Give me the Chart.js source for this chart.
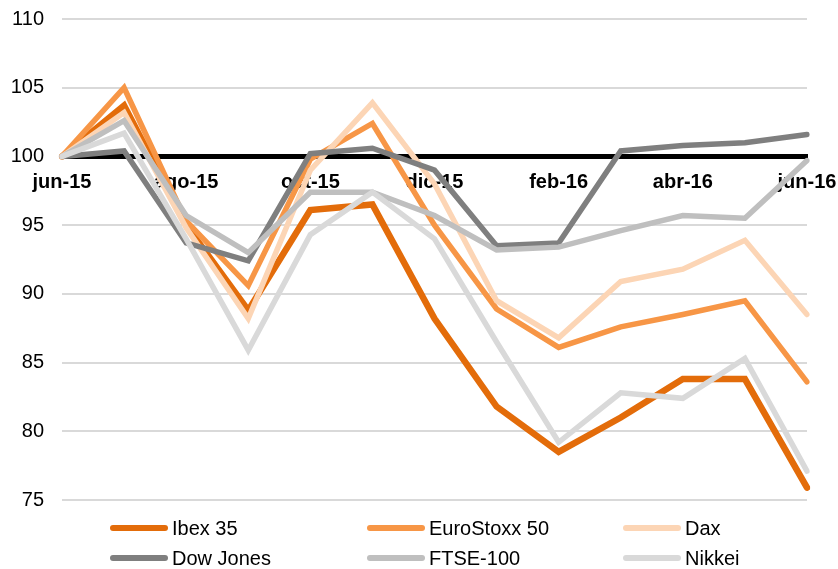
<!DOCTYPE html>
<html>
<head>
<meta charset="utf-8">
<script src="https://cdn.jsdelivr.net/npm/chart.js@4"></script>
<style>
  body { margin: 0; background: #fff; }
  #wrap { position: relative; width: 838px; height: 569px; }
  #chart { position: absolute; left: 0; top: 0; }
  .item { position: absolute; height: 30px; display: flex; align-items: center;
          font-family: "Liberation Sans", Arial, sans-serif; font-size: 20px; color: #000; }
  .swatch { width: 58px; height: 6px; border-radius: 3px; margin-right: 4px; }
</style>
</head>
<body>
<div id="wrap">
  <canvas id="chart" width="838" height="569"></canvas>
  <div id="legend"></div>
</div>
<script>
// Months (monthly, jun-15 .. jun-16)
const months = ['jun-15', 'jul-15', 'ago-15', 'sep-15', 'oct-15', 'nov-15', 'dic-15',
                'ene-16', 'feb-16', 'mar-16', 'abr-16', 'may-16', 'jun-16'];
// Axis shows every other month
const tickLabels = ['jun-15', '', 'ago-15', '', 'oct-15', '', 'dic-15',
                    '', 'feb-16', '', 'abr-16', '', 'jun-16'];
const yTicks = [75, 80, 85, 90, 95, 100, 105, 110];

// Index values (base 100 = jun-15)
const ibex      = [100, 103.7, 95.0, 88.8, 96.1, 96.5, 88.2, 81.8, 78.5, 81.0, 83.8, 83.8, 75.9];
const eurostoxx = [100, 105.0, 95.3, 90.6, 99.8, 102.4, 95.0, 88.9, 86.1, 87.6, 88.5, 89.5, 83.6];
const dax       = [100, 103.2, 94.8, 88.2, 99.0, 103.9, 98.0, 89.5, 86.8, 90.9, 91.8, 93.9, 88.5];
const dowJones  = [100, 100.4, 93.7, 92.4, 100.2, 100.6, 99.0, 93.5, 93.7, 100.4, 100.8, 101.0, 101.6];
const ftse      = [100, 102.6, 95.7, 93.0, 97.4, 97.4, 95.7, 93.2, 93.4, 94.6, 95.7, 95.5, 99.7];
const nikkei    = [100, 101.7, 94.0, 85.9, 94.3, 97.4, 94.0, 86.5, 79.2, 82.8, 82.4, 85.3, 77.1];

const seriesNames = ['Ibex 35', 'EuroStoxx 50', 'Dax', 'Dow Jones', 'FTSE-100', 'Nikkei'];
const seriesData = [ibex, eurostoxx, dax, dowJones, ftse, nikkei];
const seriesColors = ['#E36C0A', '#F79646', '#FCD5B5', '#7F7F7F', '#BFBFBF', '#D9D9D9'];
const seriesWidths = [6.5, 5.5, 5.5, 5.5, 5.5, 5.5];

const datasets = seriesNames.map((name, i) => ({
    label: name,
    data: seriesData[i],
    borderColor: seriesColors[i],
    backgroundColor: seriesColors[i],
    borderWidth: seriesWidths[i],
    borderCapStyle: 'round',
    borderJoinStyle: 'miter',
    pointRadius: 0,
    tension: 0,
    order: seriesNames.length - i // later series on top
}));

const font = "'Liberation Sans', Arial, sans-serif";

// no extra room for overhanging tick labels, the layout padding sets the plot area
function noPad(scale) {
    scale.paddingTop = 0;
    scale.paddingBottom = 0;
    scale.paddingLeft = 0;
    scale.paddingRight = 0;
}

new Chart(document.getElementById('chart'), {
    type: 'line',
    data: { labels: months, datasets: datasets },
    options: {
        responsive: false,
        animation: false,
        layout: { padding: { left: 0, right: 31, top: 19, bottom: 69 } },
        plugins: { legend: { display: false }, tooltip: { enabled: false } },
        scales: {
            y: {
                min: 75,
                max: 110,
                afterBuildTicks: (scale) => { scale.ticks = yTicks.map(v => ({ value: v })); },
                afterFit: (scale) => { scale.width = 62; noPad(scale); },
                grid: { color: '#D9D9D9', lineWidth: 2, drawTicks: false },
                border: { display: false },
                ticks: { color: '#000', padding: 18, font: { family: font, size: 20 } }
            },
            x: {
                position: { y: 100 },
                offset: false,
                afterFit: (scale) => { scale.height = 0; noPad(scale); },
                grid: { display: false },
                border: { display: true, color: '#000', width: 5 },
                ticks: { display: false }
            },
            xLabels: {
                type: 'category',
                axis: 'x',
                labels: tickLabels,
                position: { y: 100 },
                offset: false,
                z: 1,
                afterFit: (scale) => { scale.height = 0; noPad(scale); },
                grid: { display: false, drawTicks: false },
                border: { display: false },
                ticks: {
                    autoSkip: false,
                    maxRotation: 0,
                    padding: 14,
                    color: '#000',
                    font: { family: font, size: 20, weight: 'bold' }
                }
            }
        }
    }
});

// Legend (two rows of three columns)
const legendCols = [110, 367, 623];
const legendRows = [513, 543];
const legend = document.getElementById('legend');
seriesNames.forEach((name, i) => {
    const item = document.createElement('div');
    item.className = 'item';
    item.style.left = legendCols[i % 3] + 'px';
    item.style.top = legendRows[Math.floor(i / 3)] + 'px';
    const sw = document.createElement('span');
    sw.className = 'swatch';
    sw.style.background = seriesColors[i];
    const tx = document.createElement('span');
    tx.textContent = name;
    item.appendChild(sw);
    item.appendChild(tx);
    legend.appendChild(item);
});
</script>
</body>
</html>
